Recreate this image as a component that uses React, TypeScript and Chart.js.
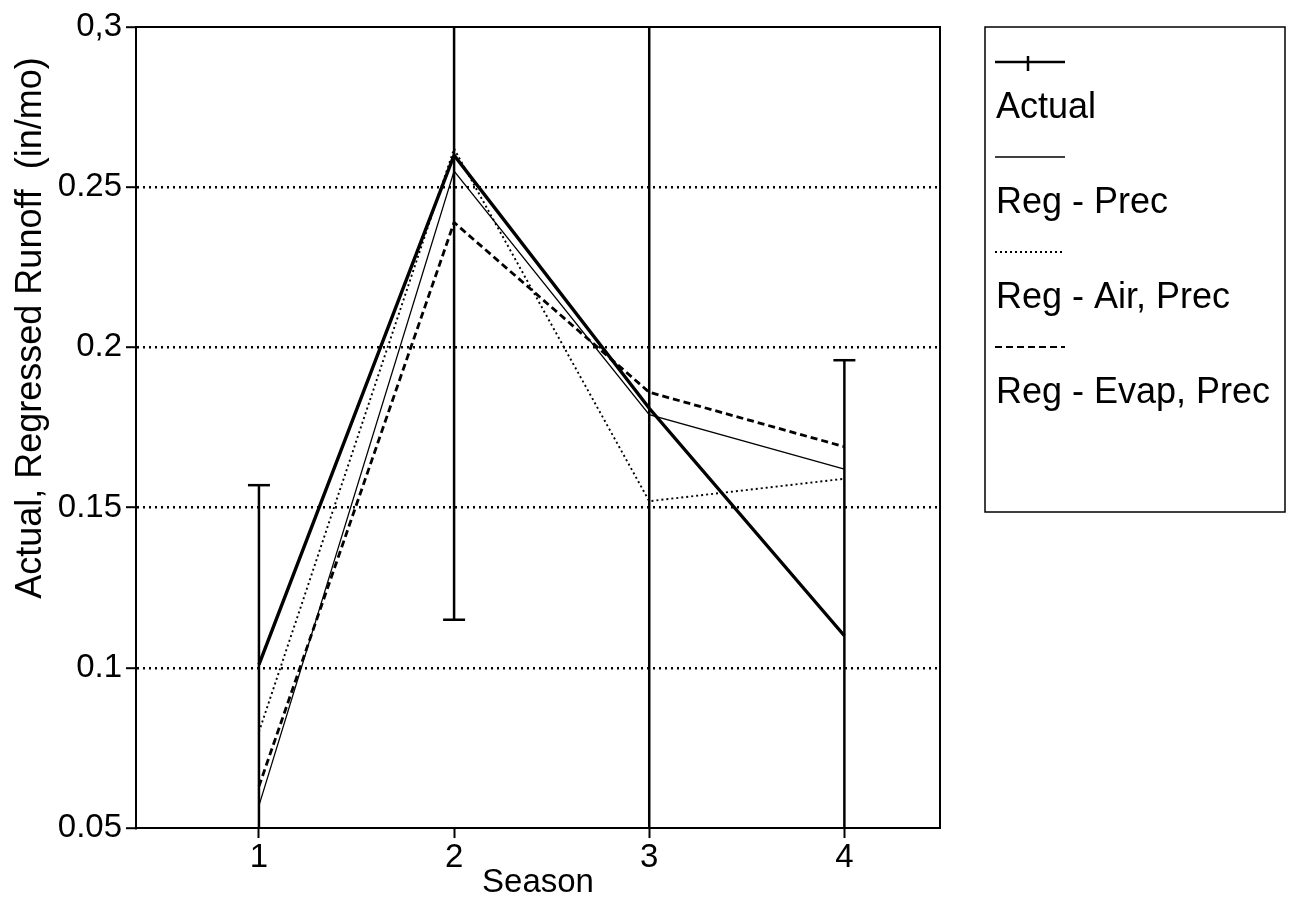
import React, { useEffect, useRef } from "react";
import { Chart, registerables } from "chart.js";

Chart.register(...registerables);

const seasons = [1, 2, 3, 4];
const actual = [0.101, 0.26, 0.181, 0.11];
const actualErrLow = [0.045, 0.115, -0.05, 0.024];
const actualErrHigh = [0.157, 0.405, 0.41, 0.196];
const regPrec = [0.057, 0.255, 0.179, 0.162];
const regAirPrec = [0.08, 0.262, 0.152, 0.159];
const regEvapPrec = [0.063, 0.239, 0.186, 0.169];
const yTickValues = [0.05, 0.1, 0.15, 0.2, 0.25, 0.3];
const yTickLabels = ["0.05", "0.1", "0.15", "0.2", "0.25", "0,3"];
const xTickValues = [1, 2, 3, 4];
const seriesLabels = ["Actual", "Reg - Prec", "Reg - Air, Prec", "Reg - Evap, Prec"];
const yTitle = "Actual, Regressed Runoff  (in/mo)";
const xTitle = "Season";

const FONT = "'Liberation Sans', Arial, Helvetica, sans-serif";

export default function App() {
  const ref = useRef<HTMLCanvasElement | null>(null);

  useEffect(() => {
    document.body.style.margin = "0";
    const canvas = ref.current;
    if (!canvas) return;

    const styles = [
      { width: 3.4, dash: [] as number[] },
      { width: 1.3, dash: [] as number[] },
      { width: 1.9, dash: [2, 3] },
      { width: 2.8, dash: [7, 4] },
    ];
    const seriesData = [actual, regPrec, regAirPrec, regEvapPrec];

    const errorBars = {
      id: "errorBars",
      afterDatasetsDraw(chart: any) {
        const { ctx, chartArea } = chart;
        const xs = chart.scales.x;
        const ys = chart.scales.y;
        ctx.save();
        ctx.strokeStyle = "#000";
        ctx.lineWidth = 2.5;
        ctx.setLineDash([]);
        seasons.forEach((s, i) => {
          const x = xs.getPixelForValue(s);
          const yl = ys.getPixelForValue(actualErrLow[i]);
          const yh = ys.getPixelForValue(actualErrHigh[i]);
          const y1 = Math.min(Math.max(yl, chartArea.top), chartArea.bottom);
          const y2 = Math.min(Math.max(yh, chartArea.top), chartArea.bottom);
          ctx.beginPath();
          ctx.moveTo(x, y1);
          ctx.lineTo(x, y2);
          ctx.stroke();
          const cap = 11;
          [yl, yh].forEach((yy) => {
            if (yy > chartArea.top + 1 && yy < chartArea.bottom - 1) {
              ctx.beginPath();
              ctx.moveTo(x - cap, yy);
              ctx.lineTo(x + cap, yy);
              ctx.stroke();
            }
          });
        });
        ctx.restore();
      },
    };

    const frame = {
      id: "frame",
      afterDraw(chart: any) {
        const { ctx, chartArea } = chart;
        ctx.save();
        ctx.strokeStyle = "#000";
        ctx.lineWidth = 2;
        ctx.setLineDash([]);
        ctx.strokeRect(chartArea.left, chartArea.top, chartArea.right - chartArea.left, chartArea.bottom - chartArea.top);

        // y title
        ctx.save();
        ctx.translate(31, 328);
        ctx.rotate(-Math.PI / 2);
        ctx.font = `36px ${FONT}`;
        ctx.fillStyle = "#000";
        ctx.textAlign = "center";
        ctx.textBaseline = "middle";
        ctx.fillText(yTitle, 0, 0);
        ctx.restore();

        // legend
        const bx = 985, by = 27, bw = 300, bh = 485;
        ctx.lineWidth = 1.5;
        ctx.strokeRect(bx, by, bw, bh);
        ctx.font = `36px ${FONT}`;
        ctx.fillStyle = "#000";
        ctx.textAlign = "left";
        ctx.textBaseline = "alphabetic";
        seriesLabels.forEach((lab, i) => {
          const ly = 62 + i * 95;
          const st = styles[i];
          ctx.lineWidth = i === 2 ? 2.2 : Math.max(1.4, st.width * 0.7);
          ctx.setLineDash(st.dash);
          ctx.beginPath();
          ctx.moveTo(995, ly);
          ctx.lineTo(1065, ly);
          ctx.stroke();
          if (i === 0) {
            ctx.setLineDash([]);
            ctx.lineWidth = 2.5;
            ctx.beginPath();
            ctx.moveTo(1028, ly - 6);
            ctx.lineTo(1028, ly + 9);
            ctx.stroke();
          }
          ctx.setLineDash([]);
          ctx.fillText(lab, 996, ly + 56);
        });
        ctx.restore();
      },
    };

    const chart = new Chart(canvas, {
      type: "line",
      data: {
        datasets: seriesLabels.map((lab, i) => ({
          label: lab,
          data: seasons.map((s, j) => ({ x: s, y: seriesData[i][j] })),
          borderColor: "#000",
          backgroundColor: "#000",
          borderWidth: styles[i].width,
          borderDash: styles[i].dash,
          pointRadius: 0,
          tension: 0,
          fill: false,
        })),
      },
      options: {
        animation: false,
        responsive: false,
        events: [],
        layout: { padding: { left: 0, top: 27, right: 352, bottom: 0 } },
        plugins: { legend: { display: false }, tooltip: { enabled: false } },
        scales: {
          x: {
            type: "linear",
            min: 0.37,
            max: 4.49,
            afterBuildTicks: (scale: any) => {
              scale.ticks = xTickValues.map((v) => ({ value: v }));
            },
            afterFit: (scale: any) => {
              scale.height = 95;
            },
            ticks: {
              color: "#000",
              font: { family: FONT, size: 33 },
              padding: 0,
              maxRotation: 0,
              callback: (v: any) => String(v),
            },
            grid: {
              drawOnChartArea: false,
              drawTicks: true,
              tickLength: 10,
              tickColor: "#000",
              tickWidth: 2,
            },
            border: { display: true, color: "#000", width: 2 },
            title: {
              display: true,
              text: xTitle,
              color: "#000",
              font: { family: FONT, size: 33 },
              padding: { top: 0, bottom: 20 },
            },
          },
          y: {
            type: "linear",
            min: 0.05,
            max: 0.3,
            afterBuildTicks: (scale: any) => {
              scale.ticks = yTickValues.map((v) => ({ value: v }));
            },
            afterFit: (scale: any) => {
              scale.width = 136;
            },
            ticks: {
              color: "#000",
              font: { family: FONT, size: 33 },
              padding: 4,
              callback: (v: any) => {
                const idx = yTickValues.findIndex((t) => Math.abs(t - v) < 1e-9);
                return idx >= 0 ? yTickLabels[idx] : "";
              },
            },
            grid: {
              drawOnChartArea: true,
              drawTicks: true,
              tickLength: 10,
              lineWidth: 2.4,
              color: (c: any) => {
                const v = c.tick ? c.tick.value : 0;
                return Math.abs(v - 0.05) < 1e-9 || Math.abs(v - 0.3) < 1e-9 ? "rgba(0,0,0,0)" : "#000";
              },
              tickColor: "#000",
              tickWidth: 2,
            },
            border: { display: true, color: "#000", width: 2, dash: [2, 4] },
          },
        },
      },
      plugins: [errorBars, frame],
    });

    return () => chart.destroy();
  }, []);

  return (
    <div style={{ width: 1292, height: 923, background: "#fff" }}>
      <canvas ref={ref} width={1292} height={923} style={{ display: "block" }} />
    </div>
  );
}
